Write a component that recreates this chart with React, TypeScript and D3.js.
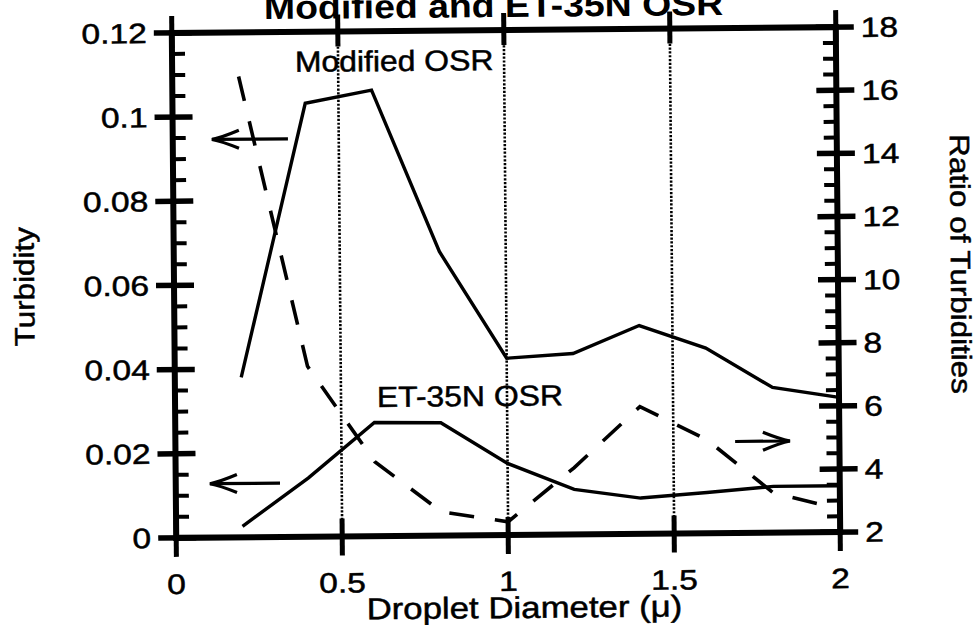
import React from "react";
import * as d3 from "d3";

// ---- data ----
const diameters = [0.2, 0.4, 0.6, 0.8, 1.0, 1.2, 1.4, 1.6, 1.8, 2.0];
const modifiedOSR = [0.038, 0.103, 0.106, 0.0675, 0.042, 0.043, 0.0495, 0.044, 0.0345, 0.032];
const et35nOSR = [0.0026, 0.014, 0.027, 0.0268, 0.017, 0.0107, 0.0085, 0.0097, 0.011, 0.011];
const ratioTurbidities = [16.6, 7.4, 4.36, 2.75, 2.42, 4.11, 6.03, 4.97, 3.26, 2.73];

const xTicks = [0, 0.5, 1, 1.5, 2];
const xTickLabels = ["0", "0.5", "1", "1.5", "2"];
const gridX = [0.5, 1, 1.5];
const leftTicks = [0, 0.02, 0.04, 0.06, 0.08, 0.1, 0.12];
const leftTickLabels = ["0", "0.02", "0.04", "0.06", "0.08", "0.1", "0.12"];
const rightTicks = [2, 4, 6, 8, 10, 12, 14, 16, 18];
const rightTickLabels = ["2", "4", "6", "8", "10", "12", "14", "16", "18"];

const titleText = "Modified and ET-35N OSR";
const xTitle = "Droplet Diameter (\u03bc)";
const yLeftTitle = "Turbidity";
const yRightTitle = "Ratio of Turbidities";
const seriesLabels = [
  { text: "Modified OSR", x: 0.37, y: 0.1105 },
  { text: "ET-35N OSR", x: 0.608, y: 0.0307 },
];
// arrows: tail x, head x, y value, axis
const arrows = [
  { x1: 0.347, x2: 0.118, y: 0.0946, axis: "left" },
  { x1: 0.314, x2: 0.103, y: 0.0128, axis: "left" },
  { x1: 1.686, x2: 1.851, y: 4.9, axis: "right" },
];

const W = 979;
const H = 625;
const L = 174, R = 838, T = 30, B = 535;
const FONT = "'Liberation Sans', Arial, Helvetica, sans-serif";

export default function App() {
  const x = d3.scaleLinear().domain([0, 2]).range([L, R]);
  const yL = d3.scaleLinear().domain([0, 0.12]).range([B, T]);
  const yR = d3.scaleLinear().domain([2, 18]).range([B, T]);

  const lineL = d3
    .line<number>()
    .x((_, i) => x(diameters[i]))
    .y((d) => yL(d));
  const lineR = d3
    .line<number>()
    .x((_, i) => x(diameters[i]))
    .y((d) => yR(d));

  const leftMinor = d3.range(0, 0.1201, 0.005).filter((v) => Math.abs(v / 0.02 - Math.round(v / 0.02)) > 1e-6);
  const rightMinor = d3.range(2, 18.01, 0.5).filter((v) => Math.abs(v / 2 - Math.round(v / 2)) > 1e-6);

  const cx = (L + R) / 2;
  const cy = (T + B) / 2;
  const sx = 1.2;

  return (
    <svg
      width={W}
      height={H}
      viewBox={`0 0 ${W} ${H}`}
      style={{ position: "absolute", left: 0, top: 0, background: "#fff" }}
    >
      <rect x={0} y={0} width={W} height={H} fill="#fff" />
      <g transform={`rotate(-0.5 ${cx} ${cy})`} fontFamily={FONT} fill="#000">
        {/* title (cut off at top, as in the reference) */}
        <text
          transform={`translate(496,17) scale(1.12,1)`}
          textAnchor="middle"
          fontSize={33.4}
          fontWeight="bold"
        >
          {titleText}
        </text>

        {/* dotted grid */}
        {gridX.map((g) => (
          <line
            key={"g" + g}
            x1={x(g)}
            x2={x(g)}
            y1={T}
            y2={B}
            stroke="#000"
            strokeWidth={2.6}
            strokeDasharray="2.2 1.6"
          />
        ))}

        {/* frame */}
        <rect x={L} y={T} width={R - L} height={B - T} fill="none" stroke="#000" strokeWidth={6} />

        {/* x ticks top & bottom */}
        {xTicks.map((t) => (
          <g key={"xt" + t}>
            <line x1={x(t)} x2={x(t)} y1={B - 18} y2={B + 19} stroke="#000" strokeWidth={5} />
            <line x1={x(t)} x2={x(t)} y1={T - 17} y2={T + 15} stroke="#000" strokeWidth={5} />
          </g>
        ))}

        <g stroke="#000" strokeWidth={0.5}>
          {xTicks.map((t, i) => (
            <text
              key={"xl" + t}
              transform={`translate(${x(t)},${B + 56}) scale(${sx},1)`}
              textAnchor="middle"
              fontSize={28}
            >
              {xTickLabels[i]}
            </text>
          ))}
          {leftTicks.map((t, i) => (
            <text
              key={"ll" + t}
              transform={`translate(${L - 25},${yL(t) + 10}) scale(${sx},1)`}
              textAnchor="end"
              fontSize={28}
            >
              {leftTickLabels[i]}
            </text>
          ))}
          {rightTicks.map((t, i) => (
            <text
              key={"rl" + t}
              transform={`translate(${R + 25},${yR(t) + 10}) scale(${sx},1)`}
              textAnchor="start"
              fontSize={28}
            >
              {rightTickLabels[i]}
            </text>
          ))}
          {seriesLabels.map((s) => (
            <text
              key={s.text}
              transform={`translate(${x(s.x)},${yL(s.y)}) scale(1.1,1)`}
              fontSize={29}
            >
              {s.text}
            </text>
          ))}
          <text
            transform={`translate(${cx + 15.6},${B + 83}) scale(1.16,1)`}
            textAnchor="middle"
            fontSize={30}
          >
            {xTitle}
          </text>
          <text
            transform={`translate(34,${cy}) rotate(-90) scale(1.12,1)`}
            textAnchor="middle"
            fontSize={28}
          >
            {yLeftTitle}
          </text>
          <text
            transform={`translate(951,268) rotate(90) scale(1.12,1)`}
            textAnchor="middle"
            fontSize={28}
          >
            {yRightTitle}
          </text>
        </g>

        {/* left axis ticks */}
        {leftTicks.map((t) => (
          <line key={"lt" + t} x1={L - 18} x2={L + 20} y1={yL(t)} y2={yL(t)} stroke="#000" strokeWidth={5.5} />
        ))}
        {leftMinor.map((t) => (
          <line key={"lm" + t} x1={L} x2={L + 13} y1={yL(t)} y2={yL(t)} stroke="#000" strokeWidth={4} />
        ))}

        {/* right axis ticks */}
        {rightTicks.map((t) => (
          <line key={"rt" + t} x1={R - 20} x2={R + 18} y1={yR(t)} y2={yR(t)} stroke="#000" strokeWidth={5.5} />
        ))}
        {rightMinor.map((t) => (
          <line key={"rm" + t} x1={R - 13} x2={R} y1={yR(t)} y2={yR(t)} stroke="#000" strokeWidth={4} />
        ))}

        {/* series */}
        <path d={lineL(modifiedOSR) || ""} fill="none" stroke="#000" strokeWidth={3.4} />
        <path d={lineL(et35nOSR) || ""} fill="none" stroke="#000" strokeWidth={3.4} />
        <path
          d={lineR(ratioTurbidities) || ""}
          fill="none"
          stroke="#000"
          strokeWidth={3.6}
          strokeDasharray="25 21"
        />

        {/* arrows */}
        {arrows.map((a, i) => {
          const yy = a.axis === "left" ? yL(a.y) : yR(a.y);
          const x1 = x(a.x1);
          const x2 = x(a.x2);
          const dir = x2 < x1 ? 1 : -1;
          return (
            <g key={"a" + i} fill="none" stroke="#000" strokeWidth={3.2}>
              <line x1={x1} x2={x2} y1={yy} y2={yy} />
              <path
                d={`M${x2 + dir * 27},${yy - 9} Q${x2 + dir * 10},${yy - 2} ${x2},${yy} Q${x2 + dir * 10},${yy + 2} ${x2 + dir * 27},${yy + 9}`}
              />
            </g>
          );
        })}
      </g>
    </svg>
  );
}
